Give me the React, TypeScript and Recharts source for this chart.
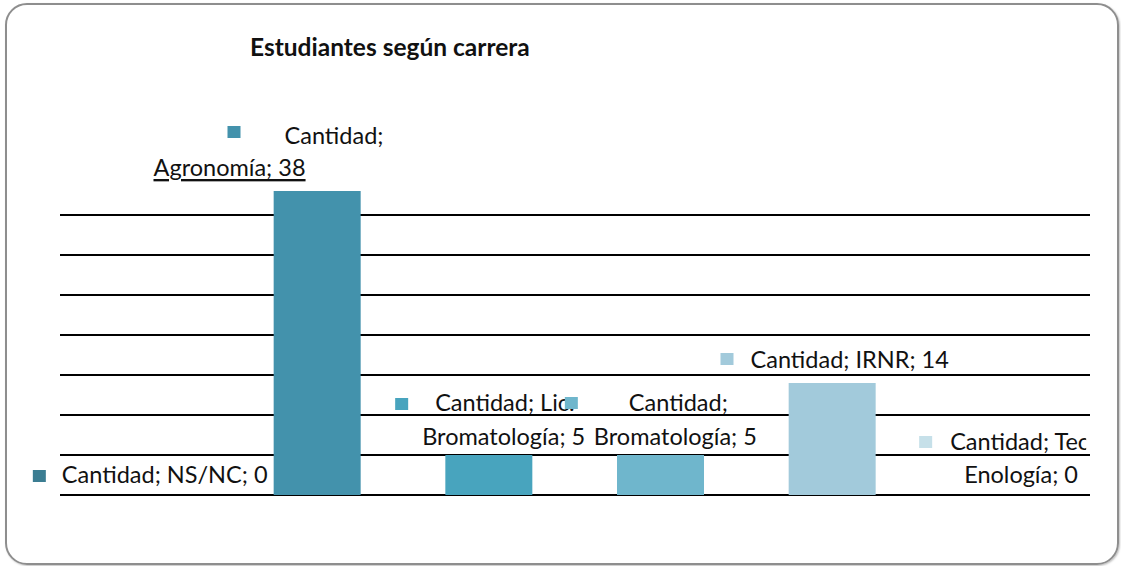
import React from 'react';
import { ComposedChart, Bar, Line, XAxis, YAxis, CartesianGrid, Cell } from 'recharts';

const title = 'Estudiantes según carrera';
const seriesName = 'Cantidad';
const categories = ['NS/NC', 'Agronomía', 'Lic. Bromatología', 'Bromatología', 'IRNR', 'Tec. Enología'];
const values = [0, 38, 5, 5, 14, 0];
const yTicks = [0, 5, 10, 15, 20, 25, 30, 35];
const yDomain = [0, 40];
const barColors = ['#3b7d92', '#4392ac', '#48a4be', '#6fb6cc', '#a2cadb', '#c6e0e9'];

// label layout (offsets relative to category centre / value point)
type Layout = {
  split: number | null;
  marker: [number, number];
  lines: [number, number][];
  underline?: boolean[];
  clipWidth?: number[];
};
const labelLayout: Layout[] = [
  { split: null, marker: [-113, -25], lines: [[-84, -21]] },
  { split: 9, marker: [-90, -65], lines: [[-33, -56], [-164, -24]], underline: [false, true] },
  { split: 14, marker: [-94, -57], lines: [[-54, -53], [-67, -19]] },
  { split: 9, marker: [-96, -58], lines: [[-32, -53], [-67, -19]] },
  { split: null, marker: [-112, -30], lines: [[-82, -24]] },
  { split: 14, marker: [-85, -59], lines: [[-54, -54], [-40, -21]], clipWidth: [140, 0] },
];

const data = categories.map((c, i) => ({ name: c, value: values[i] }));

const FONT = 'Lato, "Liberation Sans", sans-serif';

const PointLabel = (props: any) => {
  const { x, y, index } = props;
  const i = index as number;
  const lay = labelLayout[i];
  if (!lay) return null;
  const cx = Number(x);
  const top = Number(y);
  const full = `${seriesName}; ${categories[i]}; ${values[i]}`;
  const parts = lay.split == null ? [full] : [full.slice(0, lay.split), full.slice(lay.split).trim()];
  return (
    <g>
      <rect x={cx + lay.marker[0]} y={top + lay.marker[1]} width={13} height={12} fill={barColors[i]} />
      {parts.map((t, k) => {
        const [dx, dy] = lay.lines[k];
        const cw = lay.clipWidth ? lay.clipWidth[k] : 0;
        const id = `clip-${i}-${k}`;
        return (
          <g key={k}>
            {cw > 0 && (
              <clipPath id={id}>
                <rect x={cx + dx - 4} y={top + dy - 20} width={cw} height={40} />
              </clipPath>
            )}
            <text
              x={cx + dx}
              y={top + dy}
              dominantBaseline="central"
              fontFamily={FONT}
              fontSize={23.5}
              fill="#111"
              textDecoration={lay.underline && lay.underline[k] ? 'underline' : undefined}
              clipPath={cw > 0 ? `url(#${id})` : undefined}
            >
              {t}
            </text>
          </g>
        );
      })}
    </g>
  );
};

export default function App() {
  return (
    <div style={{ position: 'absolute', left: 0, top: 0, width: 1121, height: 566, background: '#fff', overflow: 'hidden' }}>
      <div
        style={{
          position: 'absolute',
          left: 5,
          top: 3,
          width: 1110,
          height: 558,
          border: '2px solid #8e8e8e',
          borderRadius: 22,
          boxShadow: '1px 1px 2px rgba(0,0,0,0.25)',
        }}
      />
      <div
        style={{
          position: 'absolute',
          left: 250,
          top: 33,
          fontFamily: FONT,
          fontWeight: 700,
          fontSize: 24.5,
          color: '#111',
          lineHeight: '28px',
          whiteSpace: 'nowrap',
        }}
      >
        {title}
      </div>
      <div style={{ position: 'absolute', left: 0, top: 0 }}>
        <ComposedChart
          width={1121}
          height={566}
          data={data}
          margin={{ top: 175, right: 31, bottom: 71, left: 60 }}
        >
          <CartesianGrid vertical={false} stroke="#000" strokeWidth={2} horizontalValues={yTicks} />
          <XAxis dataKey="name" hide />
          <YAxis hide domain={yDomain} ticks={yTicks} />
          <Bar dataKey="value" isAnimationActive={false} barSize={87}>
            {data.map((d, i) => (
              <Cell key={d.name} fill={barColors[i]} />
            ))}
          </Bar>
          <Line
            dataKey="value"
            stroke="none"
            dot={false}
            activeDot={false}
            isAnimationActive={false}
            label={<PointLabel />}
          />
        </ComposedChart>
      </div>
    </div>
  );
}
